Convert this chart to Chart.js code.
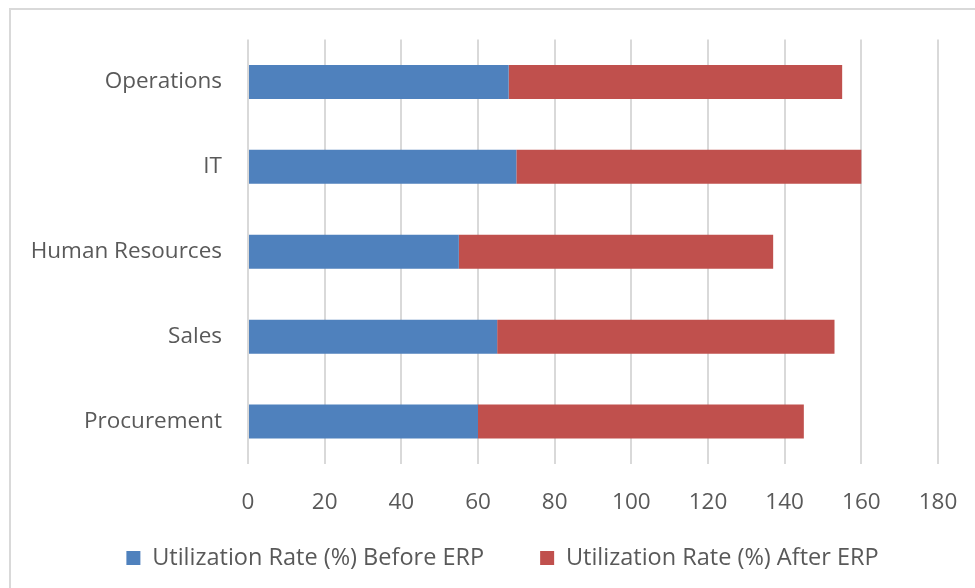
<!DOCTYPE html>
<html>
<head>
<meta charset="utf-8">
<script src="https://cdn.jsdelivr.net/npm/chart.js@4/dist/chart.umd.min.js"></script>
<style>
  html, body { margin: 0; padding: 0; background: #ffffff; overflow: hidden; }
  #frame { position: absolute; left: 9px; top: 8px; width: 2000px; height: 2000px;
           border: 2px solid #d9d9d9; box-sizing: border-box; }
  #wrap { position: absolute; left: 0; top: 0; width: 975px; height: 588px; }
</style>
</head>
<body>
<div id="frame"></div>
<div id="wrap"><canvas id="chart" width="975" height="588"></canvas></div>
<script>
// Departments, top to bottom
const categories = ["Operations", "IT", "Human Resources", "Sales", "Procurement"];
// Utilization rate (%) per department
const beforeERP = [68, 70, 55, 65, 60];
const afterERP  = [87, 90, 82, 88, 85];
const xTicks = [0, 20, 40, 60, 80, 100, 120, 140, 160, 180];

const FONT = "'Open Sans', sans-serif";
const TEXT = "#595959";
const SIZE = 22.5;
const LEGEND_SIZE = 23.5;
const LEGEND_GAP = 56;      // space between the two legend entries
const LEGEND_CENTER_Y = 558;
const LEGEND_SHIFT_X = 15;

// Moves the bottom legend row to its final spot after layout
const legendPlacement = {
  id: "legendPlacement",
  afterLayout(chart) {
    const lg = chart.legend;
    if (!lg) return;
    lg.left += LEGEND_SHIFT_X;
    lg.right += LEGEND_SHIFT_X;
    lg.top = LEGEND_CENTER_Y - LEGEND_GAP - LEGEND_SIZE / 2;
  }
};

new Chart(document.getElementById("chart"), {
  type: "bar",
  data: {
    labels: categories,
    datasets: [
      { label: "Utilization Rate (%) Before ERP", data: beforeERP,
        backgroundColor: "#4F81BD", borderWidth: 0 },
      { label: "Utilization Rate (%) After ERP", data: afterERP,
        backgroundColor: "#C0504D", borderWidth: 0 }
    ]
  },
  plugins: [legendPlacement],
  options: {
    indexAxis: "y",
    responsive: false,
    animation: false,
    devicePixelRatio: 1,
    datasets: { bar: { categoryPercentage: 1.0, barPercentage: 0.4 } },
    layout: { padding: { left: 0, top: 38, right: 0, bottom: 0 } },
    plugins: {
      tooltip: { enabled: false },
      legend: {
        position: "bottom",
        maxHeight: 64,
        labels: {
          color: TEXT,
          font: { family: FONT, size: LEGEND_SIZE },
          boxWidth: 14, boxHeight: 14,
          padding: LEGEND_GAP
        }
      }
    },
    scales: {
      x: {
        stacked: true,
        min: 0, max: 180,
        afterBuildTicks: s => { s.ticks = xTicks.map(v => ({ value: v })); },
        afterFit: s => { s.height = 60; s.paddingLeft = 0; s.paddingRight = 37; },
        grid: { color: "#d9d9d9", lineWidth: 2, drawTicks: false },
        border: { display: false },
        ticks: { color: TEXT, font: { family: FONT, size: SIZE }, padding: 25 }
      },
      y: {
        stacked: true,
        afterFit: s => { s.width = 248; },
        grid: { display: false, drawTicks: false },
        border: { display: false },
        ticks: { color: TEXT, font: { family: FONT, size: SIZE }, padding: 26 }
      }
    }
  }
});
</script>
</body>
</html>
